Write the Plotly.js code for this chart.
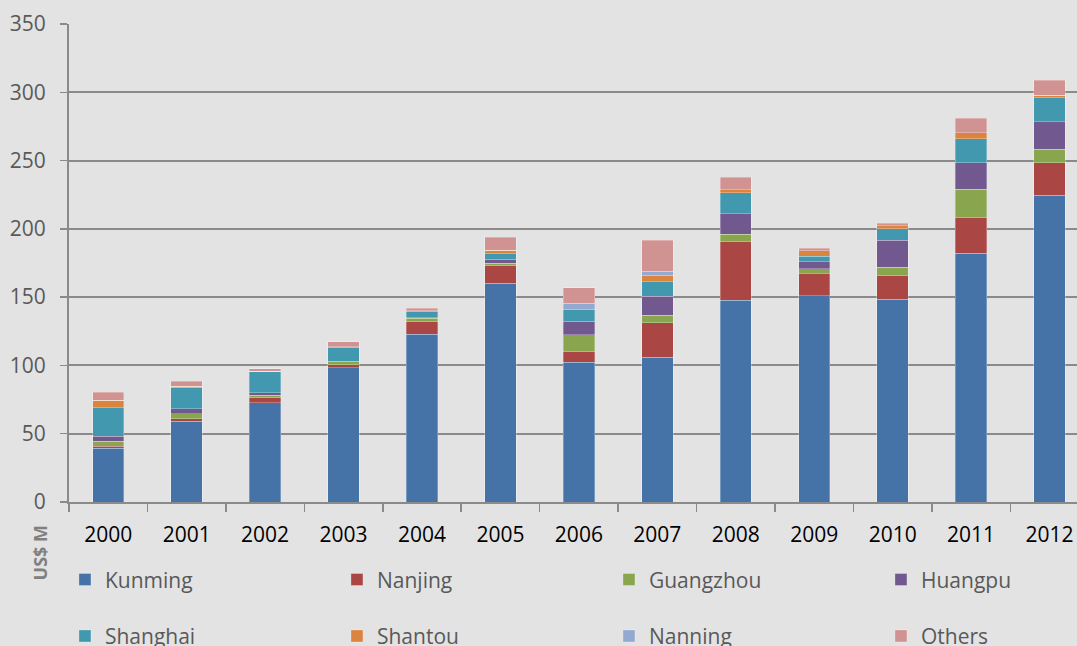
<!DOCTYPE html>
<html>
<head>
<meta charset="utf-8">
<script src="https://cdn.plot.ly/plotly-3.0.1.min.js"></script>
<style>
html,body{margin:0;padding:0;background:#e3e3e3;overflow:hidden;}
#chart{width:1077px;height:646px;}
</style>
</head>
<body>
<div id="chart"></div>
<script>
const years = ['2000','2001','2002','2003','2004','2005','2006','2007','2008','2009','2010','2011','2012'];
const kunming   = [39.5, 59.3, 72.8, 98.4, 122.8, 160.1, 102.3, 105.9, 147.9, 151.0, 148.4, 182.0, 224.5];
const nanjing   = [1.5, 1.5, 3.4, 2.2, 9.2, 12.9, 7.7, 25.4, 42.7, 16.4, 17.3, 26.1, 23.9];
const guangzhou = [3.4, 3.9, 2.0, 2.0, 2.5, 1.7, 12.3, 5.4, 5.6, 3.4, 6.3, 21.0, 9.8];
const huangpu   = [3.9, 3.6, 1.9, 0.4, 0.5, 3.2, 10.0, 13.9, 14.9, 5.1, 19.6, 19.3, 20.2];
const shanghai  = [20.7, 15.9, 15.3, 10.2, 4.8, 3.9, 8.5, 10.7, 15.3, 4.2, 8.5, 17.6, 17.6];
const shantou   = [5.6, 0.7, 0.5, 0.5, 0.3, 2.4, 0, 4.9, 2.2, 3.9, 2.2, 4.4, 2.0];
const nanning   = [0, 0, 0, 0, 0, 0, 4.7, 2.7, 0, 0, 0, 0, 0];
const others    = [5.6, 3.7, 1.7, 3.6, 1.7, 9.6, 11.2, 22.7, 9.1, 1.7, 1.7, 10.5, 10.7];

const seriesNames = ['Kunming','Nanjing','Guangzhou','Huangpu','Shanghai','Shantou','Nanning','Others'];
const seriesData = [kunming, nanjing, guangzhou, huangpu, shanghai, shantou, nanning, others];
const colors = ['#4572A7','#AA4643','#89A54E','#71588F','#4198AF','#DB843D','#93A9CF','#D19392'];

const traces = seriesNames.map((n, i) => {
  const t = {
    type: 'bar',
    name: n,
    x: years,
    y: seriesData[i],
    marker: {color: colors[i], line: {color: 'rgba(255,255,255,0.35)', width: 0.8}},
    legend: i < 4 ? 'legend' : 'legend2',
    hoverinfo: 'x+y+name'
  };
  if (i % 4 === 3) t.legendwidth = 110;
  return t;
});

const FONT = 'Open Sans, sans-serif';
const legendCommon = {
  orientation: 'h',
  xanchor: 'left', yanchor: 'top',
  x: -0.004,
  entrywidth: 227, entrywidthmode: 'pixels',
  font: {family: FONT, size: 21, color: '#595959'},
  bgcolor: 'rgba(0,0,0,0)',
  traceorder: 'normal',
  itemclick: false, itemdoubleclick: false
};

const layout = {
  width: 1077, height: 646,
  paper_bgcolor: '#e3e3e3',
  plot_bgcolor: '#e3e3e3',
  margin: {l: 68.5, r: 0, t: 24, b: 144, autoexpand: false},
  barmode: 'stack',
  bargap: 0.6,
  font: {family: FONT},
  showlegend: true,
  legend: Object.assign({}, legendCommon, {y: -0.12}),
  legend2: Object.assign({}, legendCommon, {y: -0.238}),
  xaxis: {
    type: 'category',
    range: [-0.5, 12.35],
    showline: true, linecolor: '#8a8a8a', linewidth: 2,
    ticks: 'outside', tickson: 'boundaries', ticklen: 8, tickwidth: 1.5, tickcolor: '#8a8a8a',
    tickfont: {family: FONT, size: 21, color: '#000000'},
    ticklabelstandoff: 13,
    showgrid: false, zeroline: false, automargin: false
  },
  yaxis: {
    range: [0, 350],
    tickvals: [0, 50, 100, 150, 200, 250, 300, 350],
    showline: true, linecolor: '#8a8a8a', linewidth: 2,
    ticks: 'outside', ticklen: 7, tickwidth: 1.5, tickcolor: '#8a8a8a',
    tickfont: {family: FONT, size: 21, color: '#595959'},
    ticklabelstandoff: 10,
    showgrid: true, gridcolor: '#8a8a8a', gridwidth: 2,
    zeroline: false, automargin: false
  },
  annotations: [{
    text: 'US$ M',
    textangle: -90,
    xref: 'paper', yref: 'paper',
    x: -0.0285, y: -0.107,
    xanchor: 'center', yanchor: 'middle',
    showarrow: false,
    font: {family: FONT, size: 18, color: '#808080', weight: 'bold'}
  }]
};

Plotly.newPlot('chart', traces, layout, {displayModeBar: false, staticPlot: true});
</script>
</body>
</html>
